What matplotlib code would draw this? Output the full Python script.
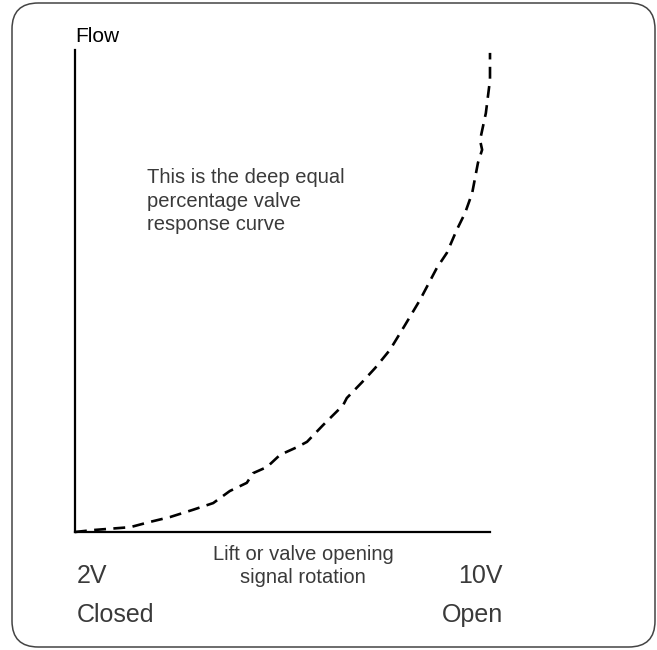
import matplotlib
matplotlib.use("Agg")
import matplotlib.pyplot as plt
from matplotlib.patches import FancyBboxPatch

# valve opening (% of travel, 2V..10V) and flow (% of max)
opening = [0, 4.3, 13.3, 18.1, 22.9, 28.4, 33.3, 37.3, 41.4, 42.9, 46.3, 49.4,
           53.5, 55.9, 59.8, 64.6, 65.5, 69.2, 72.3, 75.9, 79.5, 83.1, 87.2,
           89.6, 92.0, 94.0, 95.7, 97.1, 98.1, 97.6, 99.0, 100, 100]
flow = [0, 0.4, 1.0, 2.1, 3.1, 4.6, 6.0, 8.5, 10.2, 12.2, 13.5, 16.0,
        17.6, 18.7, 22.2, 26.3, 27.8, 31.1, 34.0, 37.8, 42.9, 48.1, 54.8,
        57.9, 62.7, 66.2, 70.3, 76.6, 79.3, 81.3, 86.9, 93.8, 99.4]

xLabel = "Lift or valve opening\nsignal rotation"
yLabel = "Flow"
note = "This is the deep equal\npercentage valve\nresponse curve"

thin = dict(family="Liberation Sans", color="#3a3a3a")

fig = plt.figure(figsize=(6.57, 6.5), dpi=100)

# rounded frame round the whole picture
frame = FancyBboxPatch((12/657, 3/650), 643/657, 644/650,
                       boxstyle="round,pad=0,rounding_size=0.04",
                       transform=fig.transFigure, fill=False,
                       edgecolor="#444444", linewidth=1.1)
fig.patches.append(frame)

ax = fig.add_axes([75/657, 118/650, 415/657, 482/650])
ax.plot(opening, flow, color="black", linewidth=1.9,
        dashes=(4.5, 2.8), clip_on=False)
ax.set_xlim(0, 100)
ax.set_ylim(0, 100)
for side in ("top", "right"):
    ax.spines[side].set_visible(False)
for side in ("left", "bottom"):
    ax.spines[side].set_linewidth(1.6)
    ax.spines[side].set_color("black")
ax.set_xticks([])
ax.set_yticks([])

fig.text(75/657, 1 - 37/650, yLabel, family="Liberation Sans", fontsize=15,
         va="center", ha="left")
fig.text(303/657, 1 - 566/650, xLabel, fontsize=14.5, ha="center",
         va="center", linespacing=1.3, **thin)
fig.text(77/657, 1 - 576/650, "2V", fontsize=18, ha="left", va="center", **thin)
fig.text(503/657, 1 - 576/650, "10V", fontsize=18, ha="right", va="center", **thin)
fig.text(77/657, 1 - 615/650, "Closed", fontsize=18, ha="left", va="center", **thin)
fig.text(503/657, 1 - 615/650, "Open", fontsize=18, ha="right", va="center", **thin)
fig.text(147/657, 1 - 168/650, note, fontsize=14.5, ha="left", va="top",
         linespacing=1.3, **thin)

fig.savefig("out.png", dpi=100)
